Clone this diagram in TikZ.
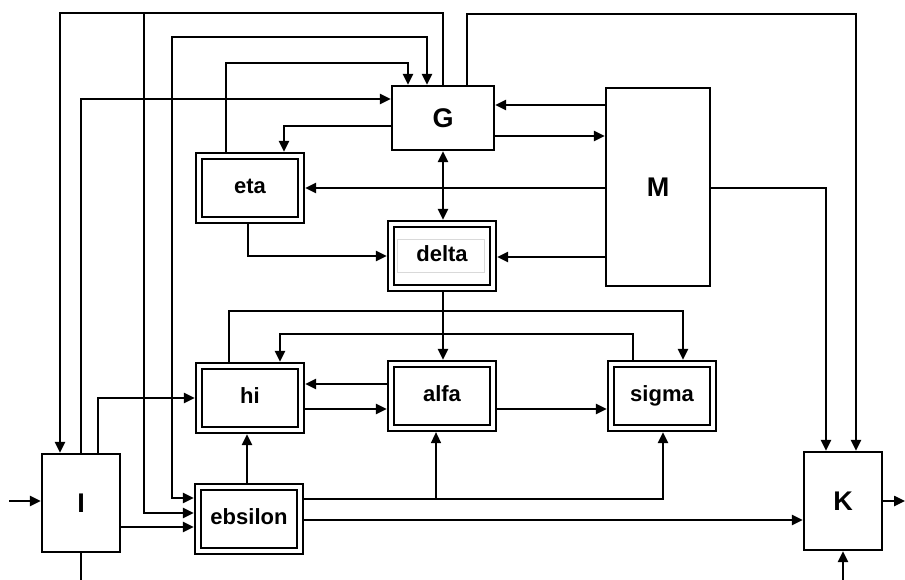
\documentclass[tikz,border=0pt]{standalone}
\usepackage{fontspec}
\setmainfont{Liberation Sans}
\usetikzlibrary{arrows.meta,calc}

\begin{document}
\begin{tikzpicture}[x=1pt,y=-1pt,
  box/.style={draw,line width=2.4pt,inner sep=0pt,
    font=\fontsize{27}{30}\selectfont\bfseries},
  dbox/.style={draw,line width=2.2pt,minimum width=108pt,minimum height=70pt,
    inner sep=0pt,text height=15pt,text depth=4pt,
    font=\fontsize{22}{24}\selectfont\bfseries,
    path picture={\draw[line width=2.8pt]
      ([shift={(6pt,-6pt)}]path picture bounding box.north west) rectangle
      ([shift={(-6pt,6pt)}]path picture bounding box.south east);}},
  link/.style={line width=2.4pt},
  tip/.tip={Triangle[length=11pt,width=10pt]},
  arr/.style={link,-tip},
  arrtwo/.style={link,tip-tip},
  thinarr/.style={line width=1.4pt,-tip}]

\useasboundingbox (0,0) rectangle (905,580);

% plain blocks
\node[box,minimum width=102pt,minimum height=64pt] (G) at (443,118) {G};
\node[box,minimum width=104pt,minimum height=198pt] (M) at (658,187) {M};
\node[box,minimum width=78pt,minimum height=98pt] (I) at (81,503) {I};
\node[box,minimum width=78pt,minimum height=98pt] (K) at (843,501) {K};

% framed blocks
\node[dbox] (eta)   at (250,188) {eta};
\node[dbox] (delta) at (442,256) {delta};
\node[dbox] (hi)    at (250,398) {hi};
\node[dbox] (alfa)  at (442,396) {alfa};
\node[dbox] (sigma) at (662,396) {sigma};
\node[dbox] (eps)   at (249,519) {ebsilon};
\draw[gray!30,line width=0.6pt] ([shift={(-45pt,17pt)}]delta.center)
  rectangle ([shift={(42pt,-16pt)}]delta.center);

% routing corners and free ends
\coordinate (j1)  at (144,13);
\coordinate (j2)  at (172,37);
\coordinate (j3)  at (226,63);
\coordinate (j13) at (467,14);
\coordinate (j15) at (229,311);
\coordinate (j16) at (633,334);
\coordinate (j25) at (436,499);
\coordinate (inI) at (9,501);
\coordinate (outI) at (81,580);
\coordinate (outK) at (905,501);
\coordinate (inK) at (843,580);

% G feedback to I and ebsilon
\draw[arr] (G.north) |- (j1) -| ([xshift=-21pt]I.north);
\draw[arr] (j1) |- ([yshift=6pt]eps.west);
\draw[arrtwo] ([xshift=-16pt]G.north) |- (j2) |- ([yshift=21pt]eps.west);
\draw[arr] ([xshift=-24pt]eta.north) |- (j3) -| ([xshift=-35pt]G.north);
\draw[arr] (I.north) |- ([yshift=19pt]G.west);
\draw[arr] ([yshift=-8pt]G.west) -| ([xshift=34pt]eta.north);

% M links
\draw[arr] ([yshift=13pt]G.east -| M.west) -- ([yshift=13pt]G.east);
\draw[arr] ([yshift=-18pt]G.east) -- ([yshift=-18pt]G.east -| M.west);
\draw[arr] (eta.east -| M.west) -- (eta.east);
\draw[arr] ([yshift=-1pt]delta.east -| M.west) -- ([yshift=-1pt]delta.east);
\draw[arr] ([yshift=-1pt]M.east) -| ([xshift=-17pt]K.north);
\draw[arr] ([xshift=24pt]G.north) |- (j13) -| ([xshift=13pt]K.north);

% middle column
\draw[arrtwo] (G.south) -- (G.south |- delta.north);
\draw[arr] ([xshift=-2pt]eta.south) |- (delta.west);
\draw[arr] ([xshift=1pt]delta.south) -- ([xshift=1pt]delta.south |- alfa.north);

% hi / alfa / sigma
\draw[arr] ([xshift=-21pt]hi.north) |- (j15) -| ([xshift=21pt]sigma.north);
\draw[arr] ([xshift=-29pt]sigma.north) |- (j16) -| ([xshift=30pt]hi.north);
\draw[arr] ([yshift=12pt]alfa.west) -- ([yshift=12pt]alfa.west -| hi.east);
\draw[arr] ([yshift=-11pt]hi.east) -- ([yshift=-11pt]hi.east -| alfa.west);
\draw[arr] ([yshift=-13pt]alfa.east) -- ([yshift=-13pt]alfa.east -| sigma.west);

% I and ebsilon
\draw[arr] (inI) -- (inI -| I.west);
\draw[link] (I.south) -- (outI);
\draw[arr] ([xshift=17pt]I.north) |- (hi.west);
\draw[arr] ([yshift=-24pt]I.east) -- ([yshift=-24pt]I.east -| eps.west);
\draw[arr] ([xshift=-2pt]eps.north) -- ([xshift=-2pt]eps.north |- hi.south);
\draw[arr] ([yshift=20pt]eps.east) -| ([xshift=1pt]sigma.south);
\draw[thinarr] (j25) -- (j25 |- alfa.south);
\draw[arr] ([yshift=-1pt]eps.east) -- ([yshift=-1pt]eps.east -| K.west);

% K
\draw[arr] (K.east) -- (K.east -| outK);
\draw[arr] (inK) -- (inK |- K.south);

\end{tikzpicture}
\end{document}
